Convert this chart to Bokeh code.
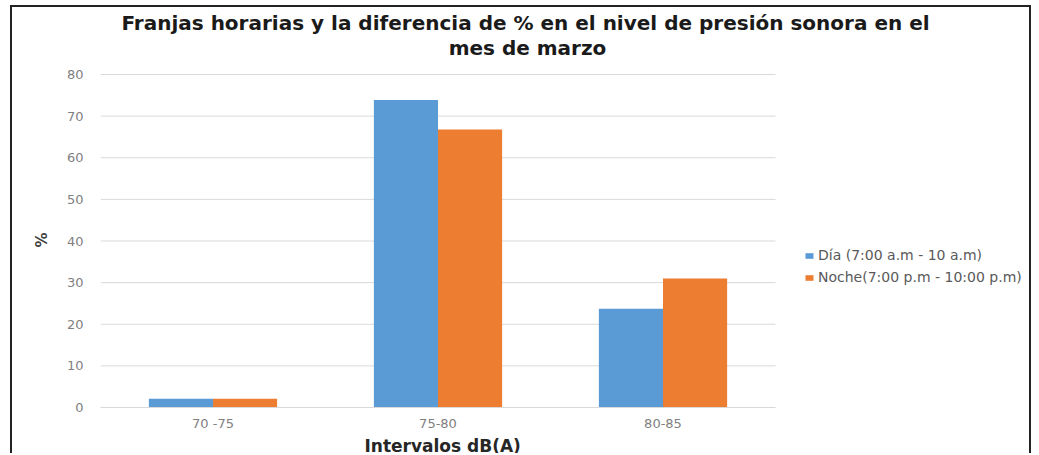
from bokeh.plotting import figure
from bokeh.models import (Range1d, Legend, LegendItem, Label, Title, FixedTicker, ColumnDataSource)
from bokeh.embed import file_html
from bokeh.resources import INLINE

categories = ["70 -75", "75-80", "80-85"]
dia = [2.1, 73.9, 23.7]
noche = [2.1, 66.8, 31.0]
series_names = ["Día (7:00 a.m - 10 a.m)", "Noche(7:00 p.m - 10:00 p.m)"]
y_ticks = [0, 10, 20, 30, 40, 50, 60, 70, 80]
title_lines = ["Franjas horarias y la diferencia de % en el nivel de presión sonora en el",
               "mes de marzo"]
x_title = "Intervalos dB(A)"
y_title = "%"

n = len(categories)
centers = [i + 0.5 for i in range(n)]
bar_w = 0.285
src = ColumnDataSource(dict(
    cat=categories,
    x_dia=[c - bar_w / 2 for c in centers],
    x_noche=[c + bar_w / 2 for c in centers],
    dia=dia, noche=noche))

FONT = "DejaVu Sans"
# frame spans the right part of the canvas too (legend + title live inside it)
p = figure(width=1021, height=448,
           x_range=Range1d(0, n * 933 / 675), y_range=Range1d(0, 80 * 400 / 333),
           output_backend="svg", toolbar_location=None,
           min_border_left=88, min_border_right=0, min_border_top=0, min_border_bottom=48)
p.styles = {"margin-left": "10px", "margin-top": "5px",
            "border-left": "2px solid #222", "border-top": "2px solid #222",
            "border-right": "2px solid #222"}
p.background_fill_color = "white"
p.border_fill_color = "white"
p.outline_line_color = None

# horizontal gridlines limited to the category area
grid_src = ColumnDataSource(dict(y=y_ticks, x0=[0] * len(y_ticks), x1=[n] * len(y_ticks)))
p.segment(x0="x0", x1="x1", y0="y", y1="y", source=grid_src, line_color="#D9D9D9", line_width=1)

r1 = p.vbar(x="x_dia", top="dia", width=bar_w, source=src,
            fill_color="#5B9BD5", line_color=None)
r2 = p.vbar(x="x_noche", top="noche", width=bar_w, source=src,
            fill_color="#ED7D31", line_color=None)

p.xgrid.grid_line_color = None
p.ygrid.grid_line_color = None

p.yaxis.ticker = FixedTicker(ticks=y_ticks)
p.yaxis.axis_line_color = None
p.yaxis.major_tick_line_color = None
p.yaxis.minor_tick_line_color = None
p.yaxis.major_tick_out = 0
p.yaxis.major_tick_in = 0
p.yaxis.major_label_standoff = 17
p.yaxis.major_label_text_font = FONT
p.yaxis.major_label_text_font_size = "13px"
p.yaxis.major_label_text_color = "#7F7F7F"

p.xaxis.ticker = FixedTicker(ticks=centers)
p.xaxis.bounds = (0, n)
p.xaxis.major_label_overrides = {c: lab for c, lab in zip(centers, categories)}
p.xaxis.axis_line_color = "#D9D9D9"
p.xaxis.major_tick_line_color = None
p.xaxis.minor_tick_line_color = None
p.xaxis.major_tick_out = 0
p.xaxis.major_tick_in = 0
p.xaxis.major_label_standoff = 8
p.xaxis.major_label_text_font = FONT
p.xaxis.major_label_text_font_size = "13px"
p.xaxis.major_label_text_color = "#7F7F7F"

# axis titles placed under / beside the category area only
p.add_layout(Title(text=x_title, align="left", offset=264, standoff=0,
                   text_font=FONT, text_font_size="17px", text_font_style="bold",
                   text_color="#262626"), "below")
p.add_layout(Title(text=y_title, align="left", offset=160, standoff=24,
                   vertical_align="middle",
                   text_font=FONT, text_font_size="15px", text_font_style="bold",
                   text_color="#404040"), "left")

legend = Legend(items=[LegendItem(label=series_names[0], renderers=[r1]),
                       LegendItem(label=series_names[1], renderers=[r2])],
                location=(704, 122), orientation="vertical")
legend.margin = 0
legend.border_line_color = None
legend.background_fill_alpha = 0
legend.label_text_font = FONT
legend.label_text_font_size = "14px"
legend.label_text_color = "#595959"
legend.glyph_width = 10
legend.glyph_height = 7
legend.spacing = 6
legend.label_standoff = 4
legend.padding = 2
p.add_layout(legend)

for txt, xs, ys in zip(title_lines, [425, 427], [385, 360]):
    p.add_layout(Label(x=xs, y=ys, x_units="screen", y_units="screen", text=txt,
                       text_align="center", text_baseline="middle",
                       text_font=FONT, text_font_size="20px", text_font_style="bold",
                       text_color="#1a1a1a"))

open("out.html", "w").write(file_html(p, INLINE))
